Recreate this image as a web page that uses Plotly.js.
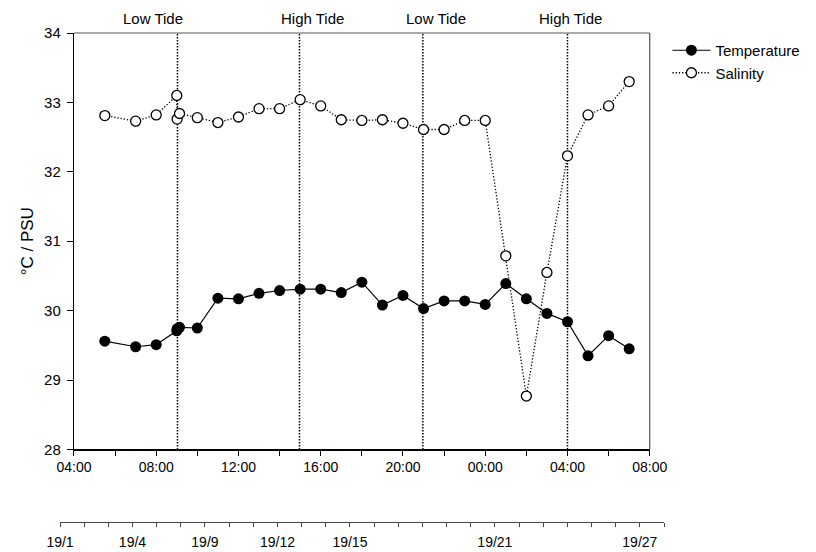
<!DOCTYPE html>
<html>
<head>
<meta charset="utf-8">
<script src="https://cdn.plot.ly/plotly-3.0.1.min.js"></script>
<style>html,body{margin:0;padding:0;background:#fff;}#chart{width:816px;height:552px;}</style>
</head>
<body>
<div id="chart"></div>
<script>
// ---- data ----
var times = [
  '2000-01-01 05:30','2000-01-01 07:00','2000-01-01 08:00',
  '2000-01-01 09:00','2000-01-01 09:01','2000-01-01 09:08',
  '2000-01-01 10:00','2000-01-01 11:00','2000-01-01 12:00','2000-01-01 13:00',
  '2000-01-01 14:00','2000-01-01 15:00','2000-01-01 16:00','2000-01-01 17:00',
  '2000-01-01 18:00','2000-01-01 19:00','2000-01-01 20:00','2000-01-01 21:00',
  '2000-01-01 22:00','2000-01-01 23:00','2000-01-02 00:00','2000-01-02 01:00',
  '2000-01-02 02:00','2000-01-02 03:00','2000-01-02 04:00','2000-01-02 05:00',
  '2000-01-02 06:00','2000-01-02 07:00'
];
var temperature = [29.56,29.48,29.51,29.71,29.74,29.76,29.75,30.18,30.17,30.25,
  30.29,30.31,30.31,30.26,30.41,30.08,30.22,30.03,30.14,30.14,30.09,30.39,
  30.17,29.96,29.84,29.35,29.64,29.45];
var salinity = [32.81,32.73,32.82,33.10,32.76,32.84,32.78,32.71,32.79,32.91,
  32.91,33.04,32.95,32.75,32.74,32.75,32.70,32.61,32.61,32.74,32.74,30.79,
  28.77,30.55,32.23,32.82,32.95,33.30];
var tideTimes = ['2000-01-01 09:02','2000-01-01 14:58','2000-01-01 20:58','2000-01-02 04:00'];
var tideLabels = ['Low Tide','High Tide','Low Tide','High Tide'];
var dayTickLabels = ['19/1','19/4','19/9','19/12','19/15','19/21','19/27'];
var dayTickPositions = [0,3,6,9,12,18,24];
var dayTickCount = 26;

// ---- build ----
var FONT = 'Liberation Sans, Arial, sans-serif';
var dayVals = [], dayText = [];
for (var i = 0; i < dayTickCount; i++) {
  dayVals.push(i);
  var k = dayTickPositions.indexOf(i);
  dayText.push(k >= 0 ? dayTickLabels[k] : '');
}
var labelShift = [-24, 13, 13, 3];

var traces = [
  {x: times, y: temperature, name: 'Temperature', type: 'scatter', mode: 'lines+markers',
   xaxis: 'x', yaxis: 'y',
   line: {color: '#000', width: 1.2},
   marker: {symbol: 'circle', size: 11, color: '#000', line: {color: '#000', width: 0}}},
  {x: times, y: salinity, name: 'Salinity', type: 'scatter', mode: 'lines+markers',
   xaxis: 'x', yaxis: 'y',
   line: {color: '#000', width: 1.3, dash: '1.3px,1.9px'},
   marker: {symbol: 'circle', size: 10, color: '#fff', line: {color: '#000', width: 1.3}}},
  {x: [null], y: [null], xaxis: 'x2', yaxis: 'y2', showlegend: false, hoverinfo: 'skip',
   type: 'scatter', mode: 'markers'}
];

var shapes = tideTimes.map(function (t) {
  return {type: 'line', xref: 'x', yref: 'y', x0: t, x1: t, y0: 28, y1: 34,
          line: {color: '#000', width: 1.5, dash: '1.5px,1.5px'}, layer: 'below'};
});
shapes.push({type: 'line', xref: 'x domain', yref: 'y domain', x0: 0, x1: 1, y0: 1, y1: 1,
             line: {color: '#555', width: 1.2}});
shapes.push({type: 'line', xref: 'x domain', yref: 'y domain', x0: 1, x1: 1, y0: 0, y1: 1,
             line: {color: '#555', width: 1.2}});

var annotations = tideTimes.map(function (t, i) {
  return {x: t, xref: 'x', y: 1, yref: 'y domain', yanchor: 'bottom', yshift: 4,
          xshift: labelShift[i], text: tideLabels[i], showarrow: false,
          font: {family: FONT, size: 15, color: '#000'}};
});

var layout = {
  width: 816, height: 552,
  margin: {l: 60, r: 151, t: 33, b: 27, pad: 0},
  paper_bgcolor: '#fff', plot_bgcolor: 'rgba(0,0,0,0)',
  font: {family: FONT, size: 15, color: '#000'},
  showlegend: true,
  legend: {x: 1.004, y: 0.998, xanchor: 'left', yanchor: 'top', bgcolor: 'rgba(0,0,0,0)',
           itemwidth: 38, font: {family: FONT, size: 15, color: '#000'}, tracegroupgap: 0},
  xaxis: {type: 'date', domain: [0.0231, 0.9764], anchor: 'y',
          range: ['2000-01-01 04:00', '2000-01-02 08:00'],
          tick0: '2000-01-01 00:00', dtick: 14400000, tickformat: '%H:%M',
          ticks: 'outside', ticklen: 5, tickwidth: 1, tickcolor: '#000',
          minor: {dtick: 7200000, ticks: 'outside', ticklen: 5, tickcolor: '#000', showgrid: false},
          showline: true, linecolor: '#000', linewidth: 1.2, showgrid: false, zeroline: false,
          tickfont: {family: FONT, size: 14, color: '#000'}, automargin: false, fixedrange: true},
  yaxis: {domain: [0.1535, 1], anchor: 'x', range: [28, 34], dtick: 1, ticks: 'outside', ticklen: 6,
          tickcolor: '#000', showline: true, linecolor: '#000', linewidth: 1.2,
          showgrid: false, zeroline: false, ticklabelstandoff: 3,
          tickfont: {family: FONT, size: 15, color: '#000'},
          title: {text: '°C / PSU', font: {family: FONT, size: 17, color: '#000'}, standoff: 6},
          automargin: false, fixedrange: true},
  xaxis2: {domain: [0, 1], anchor: 'y2', range: [0, 25],
           tickmode: 'array', tickvals: dayVals, ticktext: dayText,
           ticks: 'outside', ticklen: 4, tickcolor: '#444', showline: true,
           linecolor: '#444', linewidth: 1, showgrid: false, zeroline: false,
           ticklabelstandoff: 3,
           tickfont: {family: FONT, size: 14, color: '#000'},
           automargin: false, fixedrange: true},
  yaxis2: {domain: [0.0067, 0.012], anchor: 'x2', range: [0, 1], visible: false,
           showgrid: false, zeroline: false, fixedrange: true},
  shapes: shapes,
  annotations: annotations
};

Plotly.newPlot('chart', traces, layout, {displayModeBar: false, staticPlot: true});
</script>
</body>
</html>
